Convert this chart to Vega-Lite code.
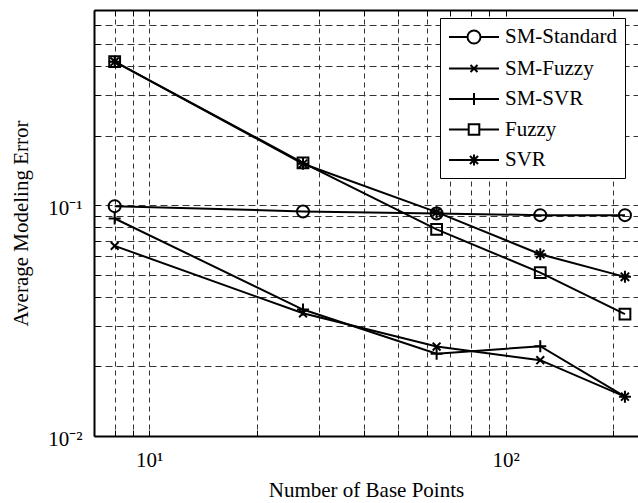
{
  "$schema": "https://vega.github.io/schema/vega-lite/v6.json",
  "width": 544,
  "height": 426,
  "autosize": "none",
  "padding": {"left": 94, "top": 10, "right": 0, "bottom": 67},
  "background": "white",
  "config": {
    "view": {"stroke": null},
    "font": "Liberation Serif",
    "legend": {"labelFont": "Liberation Serif", "labelFontSize": 21, "labelColor": "black"}
  },
  "data": {
    "values": [
      {"method": "SM-Standard", "points": 8, "error": 0.099},
      {"method": "SM-Standard", "points": 27, "error": 0.0939},
      {"method": "SM-Standard", "points": 64, "error": 0.092},
      {"method": "SM-Standard", "points": 125, "error": 0.0905},
      {"method": "SM-Standard", "points": 216, "error": 0.0905},
      {"method": "SM-Fuzzy", "points": 8, "error": 0.0666},
      {"method": "SM-Fuzzy", "points": 27, "error": 0.034},
      {"method": "SM-Fuzzy", "points": 64, "error": 0.0244},
      {"method": "SM-Fuzzy", "points": 125, "error": 0.0213},
      {"method": "SM-Fuzzy", "points": 216, "error": 0.0148},
      {"method": "SM-SVR", "points": 8, "error": 0.0875},
      {"method": "SM-SVR", "points": 27, "error": 0.0353},
      {"method": "SM-SVR", "points": 64, "error": 0.0227},
      {"method": "SM-SVR", "points": 125, "error": 0.0245},
      {"method": "SM-SVR", "points": 216, "error": 0.0148},
      {"method": "Fuzzy", "points": 8, "error": 0.418},
      {"method": "Fuzzy", "points": 27, "error": 0.1525},
      {"method": "Fuzzy", "points": 64, "error": 0.0785},
      {"method": "Fuzzy", "points": 125, "error": 0.051},
      {"method": "Fuzzy", "points": 216, "error": 0.0337},
      {"method": "SVR", "points": 8, "error": 0.418},
      {"method": "SVR", "points": 27, "error": 0.151},
      {"method": "SVR", "points": 64, "error": 0.0932},
      {"method": "SVR", "points": 125, "error": 0.0613},
      {"method": "SVR", "points": 216, "error": 0.0489}
    ]
  },
  "layer": [
    {
      "mark": {"type": "line", "color": "black", "strokeWidth": 2},
      "encoding": {
        "x": {
          "field": "points", "type": "quantitative",
          "scale": {"type": "log", "domain": [7, 235], "nice": false},
          "axis": {
            "orient": "bottom",
            "values": [8, 9, 10, 20, 30, 40, 50, 60, 70, 80, 90, 100, 200],
            "labelExpr": "datum.value == 10 ? '10¹' : (datum.value == 100 ? '10²' : '')",
            "labelOverlap": false,
            "labelFont": "Liberation Serif", "labelFontSize": 21, "labelColor": "black",
            "labelPadding": 19,
            "grid": true, "gridColor": "#333", "gridDash": [5, 4], "gridWidth": 1,
            "domainColor": "black", "domainWidth": 2,
            "tickColor": "black", "tickSize": -6, "tickWidth": 1,
            "title": "Number of Base Points",
            "titleFont": "Liberation Serif", "titleFontSize": 21, "titleFontWeight": "normal", "titleColor": "black",
            "titlePadding": 9
          }
        },
        "y": {
          "field": "error", "type": "quantitative",
          "scale": {"type": "log", "domain": [0.01, 0.7], "nice": false},
          "axis": {
            "orient": "left",
            "values": [0.01, 0.02, 0.03, 0.04, 0.05, 0.06, 0.07, 0.08, 0.09, 0.1, 0.2, 0.3, 0.4, 0.5, 0.6, 0.7],
            "labelExpr": "datum.value == 0.1 ? '10⁻¹' : (datum.value == 0.01 ? '10⁻²' : '')",
            "labelOverlap": false,
            "labelFont": "Liberation Serif", "labelFontSize": 21, "labelColor": "black",
            "labelPadding": 18, "labelOffset": 3,
            "grid": true, "gridColor": "#333", "gridDash": [7, 4], "gridWidth": 1,
            "domainColor": "black", "domainWidth": 2,
            "tickColor": "black", "tickSize": -6, "tickWidth": 1,
            "title": "Average Modeling Error",
            "titleFont": "Liberation Serif", "titleFontSize": 21, "titleFontWeight": "normal", "titleColor": "black",
            "titlePadding": 16
          }
        },
        "detail": {"field": "method"}
      }
    },
    {
      "mark": {"type": "point", "filled": false, "color": "black", "strokeWidth": 2, "opacity": 1, "size": 144},
      "encoding": {
        "x": {
          "field": "points", "type": "quantitative",
          "axis": {
            "orient": "top",
            "values": [8, 9, 10, 20, 30, 40, 50, 60, 70, 80, 90, 100, 200],
            "labels": false, "grid": false, "title": null,
            "domainColor": "black", "domainWidth": 2,
            "tickColor": "black", "tickSize": -6, "tickWidth": 1
          }
        },
        "y": {"field": "error", "type": "quantitative", "axis": null},
        "shape": {
          "field": "method",
          "scale": {
            "domain": ["SM-Standard", "SM-Fuzzy", "SM-SVR", "Fuzzy", "SVR"],
            "range": [
              "M-1,0A1,1 0 1,1 1,0A1,1 0 1,1 -1,0Z",
              "M-0.65,-0.65L0.65,0.65M-0.65,0.65L0.65,-0.65",
              "M-1,0L1,0M0,-1L0,1",
              "M-0.9,-0.9L0.9,-0.9L0.9,0.9L-0.9,0.9Z",
              "M-1,0L1,0M0,-1L0,1M-0.7,-0.7L0.7,0.7M-0.7,0.7L0.7,-0.7"
            ]
          },
          "legend": null
        }
      }
    },
    {
      "mark": {"type": "point", "filled": false, "color": "black", "strokeWidth": 2, "opacity": 0, "size": 400},
      "encoding": {
        "x": {"field": "points", "type": "quantitative", "axis": null},
        "y": {"field": "error", "type": "quantitative", "axis": null},
        "shape": {
          "field": "method",
          "scale": {
            "domain": ["SM-Standard", "SM-Fuzzy", "SM-SVR", "Fuzzy", "SVR"],
            "range": [
              "M-1,0L0.85,0M2.15,0L4,0M0.85,0A0.6,0.6 0 1,1 2.15,0A0.6,0.6 0 1,1 0.85,0Z",
              "M-1,0L4,0M1.15,-0.35L1.85,0.35M1.15,0.35L1.85,-0.35",
              "M-1,0L4,0M1.5,-0.6L1.5,0.6",
              "M-1,0L0.95,0M2.05,0L4,0M0.97,-0.53L2.03,-0.53L2.03,0.53L0.97,0.53Z",
              "M-1,0L4,0M1.5,-0.55L1.5,0.55M1.1,-0.4L1.9,0.4M1.1,0.4L1.9,-0.4"
            ]
          },
          "legend": {
            "orient": "none", "legendX": 346, "legendY": 8,
            "title": null,
            "symbolSize": 400, "symbolStrokeWidth": 2, "symbolStrokeColor": "black",
            "symbolFillColor": "transparent", "symbolOpacity": 1,
            "labelFont": "Liberation Serif", "labelFontSize": 21, "labelColor": "black",
            "labelOffset": 35, "labelLimit": 400,
            "labelExpr": "datum.label == 'SM-Standard' ? 'SM-Standard    ' : datum.label",
            "rowPadding": 9.5, "padding": 8,
            "strokeColor": "black", "fillColor": "white"
          }
        }
      }
    }
  ],
  "resolve": {
    "scale": {"shape": "independent"},
    "axis": {"x": "independent", "y": "independent"}
  }
}
